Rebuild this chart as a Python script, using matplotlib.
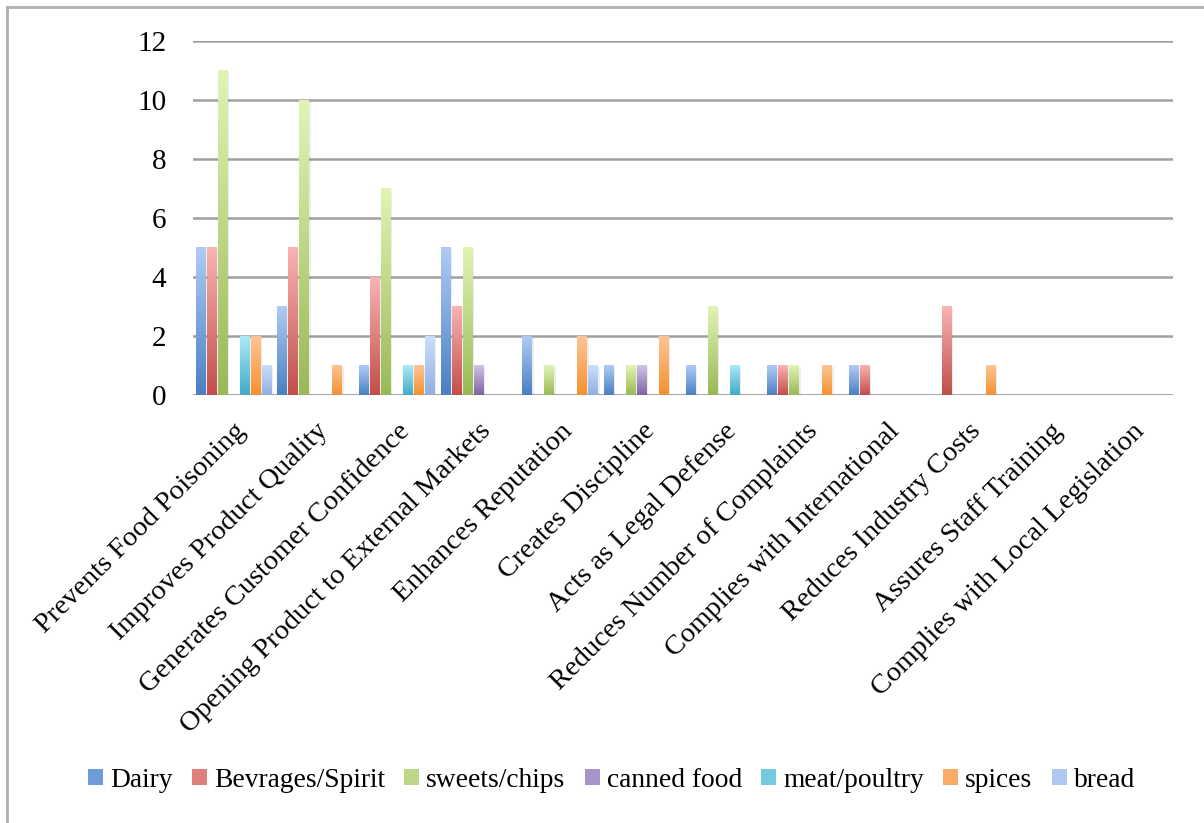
import numpy as np
import matplotlib
matplotlib.use("Agg")
import matplotlib.pyplot as plt
from matplotlib.colors import LinearSegmentedColormap
from matplotlib.lines import Line2D

CATEGORIES = [
    "Prevents Food Poisoning",
    "Improves Product Quality",
    "Generates Customer Confidence",
    "Opening Product to External Markets",
    "Enhances Reputation",
    "Creates Discipline",
    "Acts as Legal Defense",
    "Reduces Number of Complaints",
    "Complies with International",
    "Reduces Industry Costs",
    "Assures Staff Training",
    "Complies with Local Legislation",
]
SERIES = ["Dairy", "Bevrages/Spirit", "sweets/chips", "canned food",
          "meat/poultry", "spices", "bread"]

DAIRY = [5, 3, 1, 5, 2, 1, 1, 1, 1, 0, 0, 0]
BEVRAGES = [5, 5, 4, 3, 0, 0, 0, 1, 1, 3, 0, 0]
SWEETS = [11, 10, 7, 5, 1, 1, 3, 1, 0, 0, 0, 0]
CANNED = [0, 0, 0, 1, 0, 1, 0, 0, 0, 0, 0, 0]
MEAT = [2, 0, 1, 0, 0, 0, 1, 0, 0, 0, 0, 0]
SPICES = [2, 1, 1, 0, 2, 2, 0, 1, 0, 1, 0, 0]
BREAD = [1, 0, 2, 0, 1, 0, 0, 0, 0, 0, 0, 0]
VALUES = [DAIRY, BEVRAGES, SWEETS, CANNED, MEAT, SPICES, BREAD]

# (bottom, top) colours of each series gradient
GRADIENTS = [
    ("#4a7fc2", "#b0ccf5"),
    ("#c24e4b", "#f9b4b2"),
    ("#99b955", "#e1f4b6"),
    ("#7e63a4", "#d2c4e8"),
    ("#41abc6", "#aaeaf9"),
    ("#f5912f", "#ffc596"),
    ("#90afe0", "#cbdffc"),
]
SOLID = ["#6f9bd8", "#de7f7c", "#bcd788", "#a793c7", "#74cbe0", "#faab65", "#aec8f0"]

SERIF = ["Liberation Serif", "DejaVu Serif"]
GRID_COLOR = "#a0a0a0"

fig = plt.figure(figsize=(12.04, 8.23), dpi=100)
ax = fig.add_axes([0.160, 0.520, 0.814, 0.430])

n_cat = len(CATEGORIES)
slot = 0.1347
bar_w = slot * 0.9
x = np.arange(n_cat)
grad = np.linspace(0, 1, 256).reshape(-1, 1)

for j, (name, vals) in enumerate(zip(SERIES, VALUES)):
    cmap = LinearSegmentedColormap.from_list(name, GRADIENTS[j])
    xs = x + (j - 3) * slot
    bars = ax.bar(xs, vals, width=bar_w, color="none", edgecolor="none", zorder=3)
    for rect in bars:
        h = rect.get_height()
        if h <= 0:
            continue
        x0 = rect.get_x()
        # soft shadow to the right of each bar
        ax.bar(x0 + bar_w / 2 + 0.02, h - 0.05, width=bar_w, bottom=0,
               color="#000000", alpha=0.07, zorder=2, linewidth=0)
        ax.imshow(grad, extent=(x0, x0 + bar_w, 0, h), origin="lower",
                  cmap=cmap, aspect="auto", zorder=4, interpolation="bicubic")
    # proxy for the legend
    ax.bar([0], [0], width=0, color=SOLID[j], label=name)

ax.set_xlim(-0.5, n_cat - 0.5)
ax.set_ylim(0, 12)
ax.set_yticks(range(0, 13, 2))
ax.yaxis.grid(True, color=GRID_COLOR, linewidth=1.8, zorder=1)
ax.set_axisbelow(True)
for s in ax.spines.values():
    s.set_visible(False)
ax.axhline(0, color=GRID_COLOR, linewidth=1.8, zorder=1)

ax.set_xticks(x + 0.0)
ax.set_xticklabels(CATEGORIES, rotation=45, ha="right", va="top",
                   rotation_mode="anchor", fontsize=20.5, family=SERIF)
ax.tick_params(axis="x", length=0, pad=17)
ax.tick_params(axis="y", length=0, pad=19, labelsize=21)
for lbl in ax.get_yticklabels():
    lbl.set_family(SERIF)

leg = fig.legend(loc="center", bbox_to_anchor=(0.508, 0.052), ncol=7,
                 frameon=False, handlelength=0.55, handleheight=0.55,
                 handletextpad=0.25, columnspacing=0.7,
                 prop={"family": SERIF, "size": 19.8})

# chart frame (left and top edges)
fig.add_artist(Line2D([0.0058, 0.0058], [0, 0.9915], color="#b0b0b0", linewidth=2,
                      transform=fig.transFigure))
fig.add_artist(Line2D([0.0058, 1.0], [0.9915, 0.9915], color="#b0b0b0", linewidth=2,
                      transform=fig.transFigure))

fig.savefig("out.png", dpi=100)
